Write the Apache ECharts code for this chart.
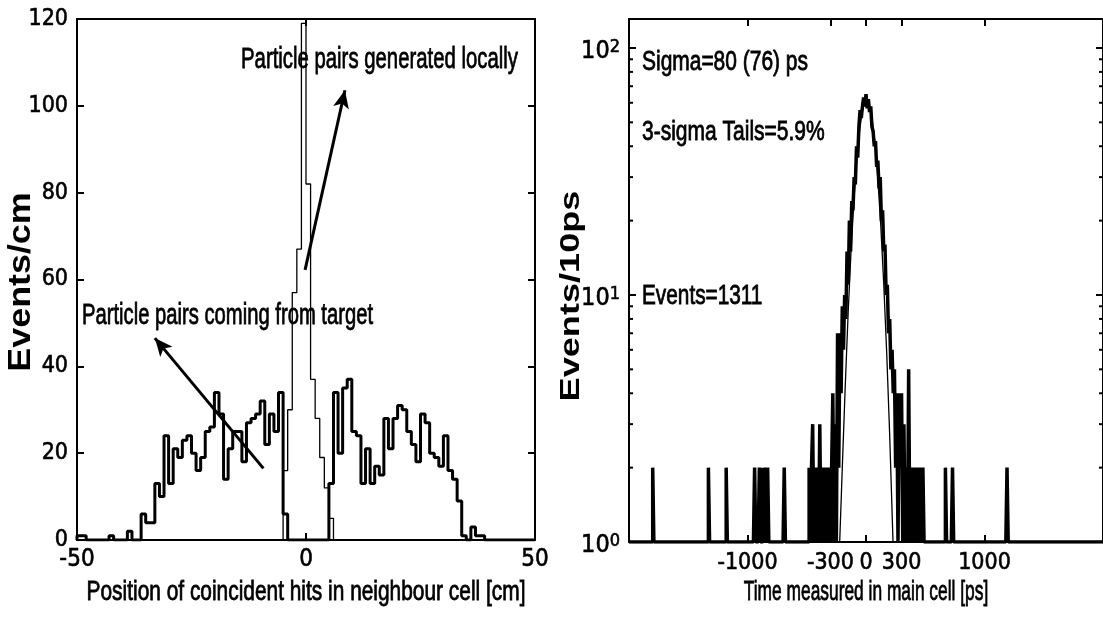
<!DOCTYPE html>
<html><head><meta charset="utf-8">
<script src="https://cdn.jsdelivr.net/npm/echarts@6/dist/echarts.min.js"></script>
<style>html,body{margin:0;padding:0;background:#fff}#c{width:1103px;height:619px}</style>
</head><body><div id="c"></div>
<script>
// ---------- Left panel: position histogram, 1 cm bins, left edges from -50 ----------
const posFirstBin = -50;
const posBinWidth = 1;
// particle pairs coming from target (thick line), bins -50 .. 49
const targetCounts = [
  1,1,0,0,0,0,0,1,0,0,
  0,2,0,0,6,4,4,13,10,24,
  13,21,19,23,24,20,16,19,25,26,
  34,29,14,21,25,25,18,27,28,29,
  32,22,29,25,34,6,0,0,0,0,
  0,0,0,0,0,13,34,20,35,37,
  25,24,13,21,13,17,15,28,21,28,
  31,30,25,22,18,29,27,20,19,17,
  24,16,14,9,1,0,3,1,1,0,
  0,0,0,0,0,0,0,0,0,0
];
// particle pairs generated locally (thin line)
const localBins = [-5,-4,-3,-2,-1,0,1,2,3,4,5];
const localCounts = [16,30,57,67,119,82,37,28,19,12,5];
const posTicks = [-50,0,50];
const posCountTicks = [0,20,40,60,80,100,120];

// ---------- Right panel: time histogram, 10 ps bins ----------
const tofBinWidth = 10;
const tofCoreFirst = -500;           // left edge of first core bin
const tofCoreCounts = [
  0,0,2,1,2,3,1,2,1,2,
  1,3,1,2,1,2,1,2,1,2,
  1,2,4,1,3,1,7,2,7,4,
  9,6,10,8,15,11,20,15,24,22,
  30,28,40,36,48,56,52,58,63,58,
  65,57,62,55,58,48,46,40,42,33,
  35,27,30,20,22,15,16,10,11,7,
  8,5,6,4,5,2,4,1,4,2,
  4,1,3,1,2,1,5,1,2,1,
  2,1,2,1,2,1,2,1,2,0
];
const tofTailStart = [-1800,-1330,-1180,-940,-900,-870,-860,-850,-840,-830,-690,670,730,1190];
const tofTailCounts = [2,2,2,2,2,2,1,2,1,2,2,2,2,2];
// gaussian fit curve (thin line)
const fitTime  = [-222,-200,-175,-150,-125,-100,-75,-50,-25,0,25,50,75,100,125,150,175,200,228];
const fitValue = [1,2,4.3,8.6,15.5,25,36.6,48,57.6,62,60,52.5,41.5,29.5,19,11,5.8,2.7,1];
const timeTicks = [-1000,-300,0,300,1000];
const logMinorTicks = [2,3,4,5,6,7,8,9,20,30,40,50,60,70,80,90];

// ---------- helpers ----------
function steps(first, width, counts, floor) {
  const pts = [[first, floor]];
  counts.forEach((c, i) => {
    const v = Math.max(c, floor);
    pts.push([first + i * width, v], [first + (i + 1) * width, v]);
  });
  pts.push([first + counts.length * width, floor]);
  return pts;
}
const localDense = targetCounts.map(() => 0);
localBins.forEach((b, i) => { localDense[(b - posFirstBin) / posBinWidth] = localCounts[i]; });

const tofFirst = -2000, tofN = 400;
const tofDense = new Array(tofN).fill(0);
tofCoreCounts.forEach((c, i) => { tofDense[(tofCoreFirst - tofFirst) / tofBinWidth + i] = c; });
tofTailStart.forEach((s, i) => { tofDense[Math.round((s - tofFirst) / tofBinWidth)] = tofTailCounts[i]; });

const NARROW = "'Liberation Sans Narrow','Arial Narrow','DejaVu Sans Condensed',sans-serif";
const SANS = "'Liberation Sans',Arial,Helvetica,sans-serif";
const axLine = { show: true, onZero: false, lineStyle: { color: '#000', width: 2 } };
const tick = { show: true, inside: true, length: 7, lineStyle: { color: '#000', width: 2 } };
const noSplit = { show: false };
const heavy = { textBorderColor: '#000', textBorderWidth: 0.6 };

function txt(text, x, y, size, sx, opts) {
  opts = opts || {};
  return {
    type: 'text', x: x, y: y, scaleX: sx, rotation: opts.rot || 0, silent: true, z: 100,
    style: {
      text: text, fill: '#000',
      stroke: opts.bold ? null : '#000', lineWidth: opts.bold ? 0 : 0.8,
      font: (opts.bold ? 'bold ' : '') + size + 'px ' + SANS,
      textAlign: opts.align || 'left', align: opts.align || 'left',
      textVerticalAlign: 'middle', verticalAlign: 'middle'
    }
  };
}

const chart = echarts.init(document.getElementById('c'), null, { renderer: 'canvas' });
chart.setOption({
  animation: false,
  backgroundColor: '#fff',
  grid: [
    { left: 77, top: 19, right: 568, bottom: 79 },
    { left: 629, top: 19, right: -1, bottom: 77 }
  ],
  xAxis: [
    { type: 'value', gridIndex: 0, min: -50, max: 50, interval: 50, position: 'bottom',
      axisLine: axLine, axisTick: tick, splitLine: noSplit,
      axisLabel: Object.assign({ color: '#000', fontFamily: NARROW, fontSize: 24, margin: 8 }, heavy) },
    { type: 'value', gridIndex: 0, min: -50, max: 50, interval: 50, position: 'top',
      axisLine: axLine, axisTick: tick, splitLine: noSplit, axisLabel: { show: false } },
    { type: 'value', gridIndex: 1, min: -2000, max: 2000, position: 'bottom',
      axisLine: axLine, axisTick: Object.assign({}, tick, { customValues: timeTicks }), splitLine: noSplit,
      axisLabel: Object.assign({ customValues: timeTicks, color: '#000', fontFamily: NARROW, fontSize: 23, margin: 10,
        formatter: v => String(v) }, heavy) },
    { type: 'value', gridIndex: 1, min: -2000, max: 2000, position: 'top',
      axisLine: axLine, axisTick: Object.assign({}, tick, { customValues: timeTicks }), splitLine: noSplit,
      axisLabel: { show: false } }
  ],
  yAxis: [
    { type: 'value', gridIndex: 0, min: 0, max: 120, interval: 20, position: 'left',
      axisLine: axLine, axisTick: tick, splitLine: noSplit,
      axisLabel: Object.assign({ color: '#000', fontFamily: NARROW, fontSize: 23, margin: 9 }, heavy) },
    { type: 'value', gridIndex: 0, min: 0, max: 120, interval: 20, position: 'right',
      axisLine: axLine, axisTick: tick, splitLine: noSplit, axisLabel: { show: false } },
    { type: 'log', logBase: 10, gridIndex: 1, min: 1, max: 131, position: 'left',
      axisLine: axLine, axisTick: tick, splitLine: noSplit,
      axisLabel: {
        margin: 9, padding: [6, 0, 0, 0],
        formatter: function (v) {
          const e = Math.round(Math.log10(v));
          if (Math.abs(Math.pow(10, e) - v) > 1e-6 * v) return '';
          return '{b|10}{s|' + e + '}';
        },
        rich: {
          b: Object.assign({ fontFamily: NARROW, fontSize: 25, color: '#000', lineHeight: 26, padding: [12, 0, 0, 0], verticalAlign: 'bottom' }, heavy),
          s: Object.assign({ fontFamily: NARROW, fontSize: 18, color: '#000', lineHeight: 17, verticalAlign: 'top' }, heavy)
        }
      } },
    { type: 'log', logBase: 10, gridIndex: 1, min: 1, max: 131, position: 'right',
      axisLine: axLine, axisTick: tick, splitLine: noSplit, axisLabel: { show: false } }
  ],
  series: [
    { type: 'line', xAxisIndex: 0, yAxisIndex: 0, data: steps(posFirstBin, posBinWidth, localDense, 0),
      showSymbol: false, symbol: 'none', lineStyle: { color: '#000', width: 1.3 }, z: 3,
      markLine: {
        silent: true, animation: false, symbol: ['none', 'arrow'], symbolSize: [12, 18],
        label: { show: false },
        lineStyle: { color: '#000', width: 3, type: 'solid' },
        data: [
          [{ coord: [-0.2, 62.2] }, { coord: [8.5, 103.6] }],
          [{ coord: [-9.3, 16.5] }, { coord: [-33, 46.5] }]
        ]
      } },
    { type: 'line', xAxisIndex: 0, yAxisIndex: 0, data: steps(posFirstBin, posBinWidth, targetCounts, 0),
      showSymbol: false, symbol: 'none', lineStyle: { color: '#000', width: 3 }, z: 2 },
    { type: 'line', xAxisIndex: 2, yAxisIndex: 2, data: steps(tofFirst, tofBinWidth, tofDense, 1),
      showSymbol: false, symbol: 'none', lineStyle: { color: '#000', width: 3.5 }, z: 2 },
    { type: 'line', xAxisIndex: 2, yAxisIndex: 2, data: fitTime.map((t, i) => [t, fitValue[i]]),
      showSymbol: false, symbol: 'none', lineStyle: { color: '#000', width: 1.3 }, z: 3 },
    { type: 'custom', xAxisIndex: 2, yAxisIndex: 2, data: logMinorTicks.map(v => [0, v]), silent: true, z: 4,
      renderItem: function (params, api) {
        const v = api.value(1);
        const p = api.coord([-2000, v]);
        const q = api.coord([2000, v]);
        const st = { stroke: '#000', lineWidth: 2 };
        return { type: 'group', children: [
          { type: 'line', shape: { x1: p[0], y1: p[1], x2: p[0] + 4, y2: p[1] }, style: st },
          { type: 'line', shape: { x1: q[0], y1: q[1], x2: q[0] - 4, y2: q[1] }, style: st }
        ] };
      } }
  ],
  graphic: [
    txt('Particle pairs generated locally', 241, 60, 30, 0.678),
    txt('Particle pairs coming from target', 82, 316, 30, 0.674),
    txt('Sigma=80 (76) ps', 642, 62.5, 27, 0.776),
    txt('3-sigma Tails=5.9%', 642, 133, 27, 0.778),
    txt('Events=1311', 642, 297, 27, 0.77),
    txt('Position of coincident hits in neighbour cell [cm]', 306, 592, 28, 0.746, { align: 'center' }),
    txt('Time measured in main cell [ps]', 866, 592, 28, 0.62, { align: 'center' }),
    txt('Events/cm', 21, 282, 32, 1.12, { bold: true, align: 'center', rot: Math.PI / 2 }),
    txt('Events/10ps', 571, 296, 28, 1.29, { bold: true, align: 'center', rot: Math.PI / 2 })
  ]
});
</script></body></html>
